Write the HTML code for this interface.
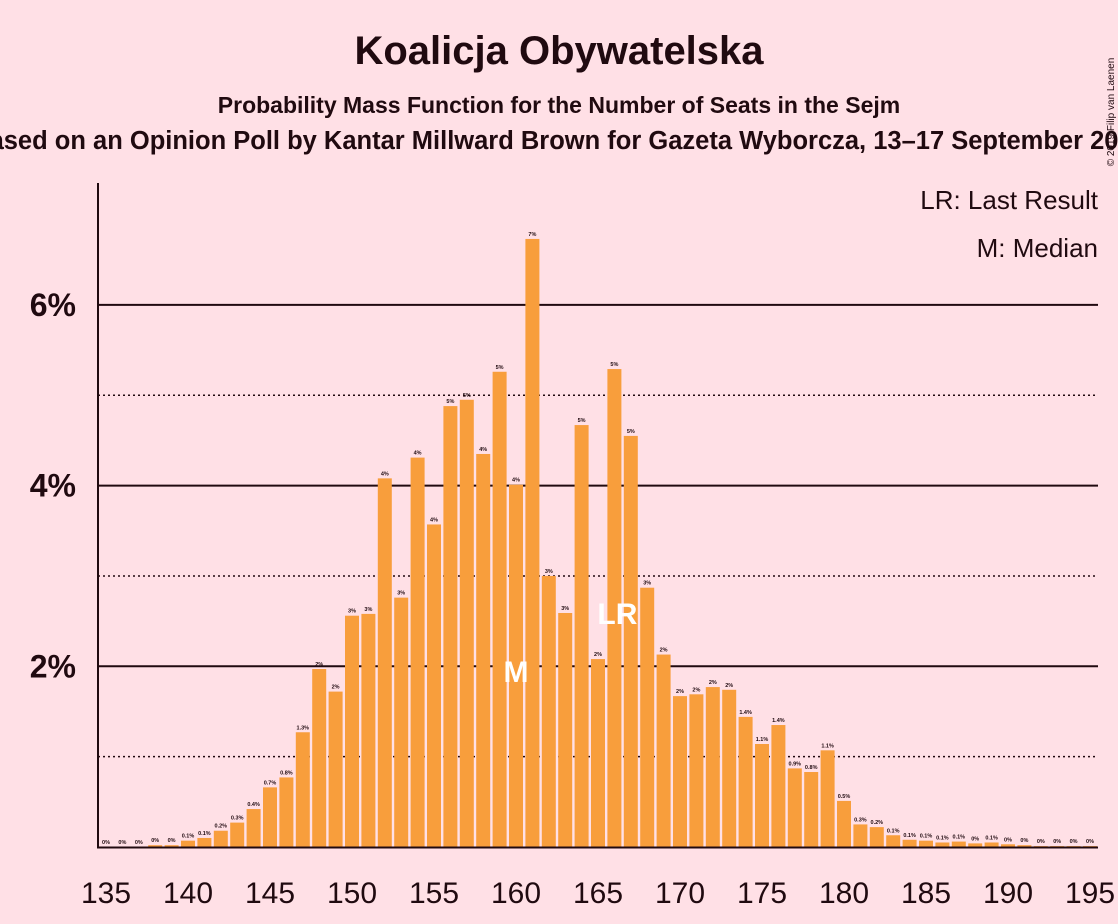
<!DOCTYPE html>
<html><head><meta charset="utf-8"><style>
html,body{margin:0;padding:0;background:#ffe0e6;}
svg{display:block;font-family:"Liberation Sans",sans-serif;}
</style></head><body>
<svg id="chart" width="1118" height="924" viewBox="0 0 1118 924">
<rect width="1118" height="924" fill="#ffe0e6"/>
<text x="559" y="64" text-anchor="middle" font-size="40" font-weight="bold" fill="#200a10">Koalicja Obywatelska</text>
<text x="559" y="113" text-anchor="middle" font-size="23" font-weight="bold" fill="#200a10">Probability Mass Function for the Number of Seats in the Sejm</text>
<text x="559" y="149" text-anchor="middle" font-size="25.5" font-weight="bold" fill="#200a10">Based on an Opinion Poll by Kantar Millward Brown for Gazeta Wyborcza, 13–17 September 2019</text>
<text x="1114" y="112" transform="rotate(-90 1114 112)" text-anchor="middle" font-size="10" fill="#200a10">© 2019 Filip van Laenen</text>
<g id="grid"></g>
<g id="bars"></g>
<g id="axes"></g>
<text x="1098" y="209" text-anchor="end" font-size="26" fill="#200a10">LR: Last Result</text>
<text x="1098" y="257" text-anchor="end" font-size="26" fill="#200a10">M: Median</text>
</svg>
<script>
const seats = [];
for (let s = 135; s <= 195; s++) seats.push(s);
const probs = [0,0,0,0.02,0.02,0.07,0.1,0.18,0.27,0.42,0.66,0.77,1.27,1.97,1.72,2.56,2.58,4.08,2.76,4.31,3.57,4.88,4.95,4.35,5.26,4.01,6.73,3.0,2.59,4.67,2.08,5.29,4.55,2.87,2.13,1.67,1.69,1.77,1.74,1.44,1.14,1.35,0.87,0.83,1.07,0.51,0.25,0.22,0.13,0.08,0.07,0.05,0.06,0.04,0.05,0.03,0.02,0.01,0.01,0.01,0.01];
const yTicks = [2,4,6];
const yMinor = [1,3,5];
const xTicks = [135,140,145,150,155,160,165,170,175,180,185,190,195];
const medianSeat = 160;
const lastResultSeat = 166;

const NS = "http://www.w3.org/2000/svg";
const x = s => 106 + (s - 135) * 16.4;
const y = v => 847 - v * 90.35;
function mk(tag, attrs, parent, txt) {
  const e = document.createElementNS(NS, tag);
  for (const k in attrs) e.setAttribute(k, attrs[k]);
  if (txt !== undefined) e.textContent = txt;
  parent.appendChild(e);
  return e;
}
const grid = document.getElementById('grid');
const bars = document.getElementById('bars');
const axes = document.getElementById('axes');
yTicks.forEach(t => {
  const l = mk('line', {x1: 98, x2: 1098, y1: y(t), y2: y(t), stroke: '#200a10', 'stroke-width': 2}, grid);
  
  
  const tx = mk('text', {x: 76, y: y(t) + 11, 'text-anchor': 'end', 'font-size': 32, 'font-weight': 'bold', fill: '#200a10'}, axes, t + '%');
  
  
});
yMinor.forEach(t => {
  const l = mk('line', {x1: 98, x2: 1098, y1: y(t), y2: y(t), stroke: '#200a10', 'stroke-width': 1.5, 'stroke-dasharray': '2,3'}, grid);
  
  
});
seats.forEach((s, i) => {
  const v = probs[i];
  const r = mk('rect', {x: x(s) - 7, y: y(v), width: 14, height: 847 - y(v), fill: '#f89e3c'}, bars);
  
  
  const lab = v < 0.05 ? '0%' : (v < 1.5 ? v.toFixed(1) + '%' : Math.round(v) + '%');
  const t = mk('text', {x: x(s), y: y(v) - 3, 'text-anchor': 'middle', 'font-size': 5.5, 'font-weight': 'bold', fill: '#200a10'}, bars, lab);
  
  
});
const m = mk('text', {x: x(medianSeat), y: 682, 'text-anchor': 'middle', 'font-size': 30, 'font-weight': 'bold', fill: '#ffffff'}, bars, 'M');


const lr = mk('text', {x: x(lastResultSeat) + 3, y: 624, 'text-anchor': 'middle', 'font-size': 30, 'font-weight': 'bold', fill: '#ffffff'}, bars, 'LR');


const ya = mk('line', {x1: 98, x2: 98, y1: 183, y2: 848, stroke: '#200a10', 'stroke-width': 2}, axes);


const xa = mk('line', {x1: 97, x2: 1098, y1: 847.5, y2: 847.5, stroke: '#200a10', 'stroke-width': 2}, axes);


xTicks.forEach(s => {
  const t = mk('text', {x: x(s), y: 903, 'text-anchor': 'middle', 'font-size': 30, fill: '#200a10'}, axes, String(s));
  
  
});
</script>
</body></html>
